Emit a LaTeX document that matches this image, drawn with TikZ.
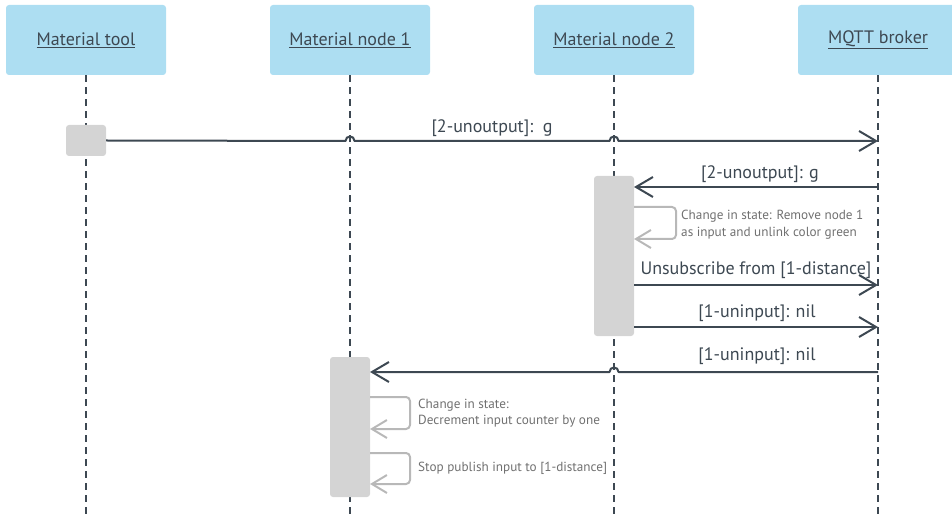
\documentclass[tikz,border=0pt]{standalone}
\usepackage{fontspec}
\setmainfont{PT Sans}
\usetikzlibrary{arrows.meta}
\definecolor{headfill}{HTML}{ADDEF2}
\definecolor{ink}{HTML}{3D4852}
\definecolor{actfill}{HTML}{D4D4D4}
\definecolor{selfc}{HTML}{B8B8B8}
\definecolor{notec}{HTML}{707070}

\begin{document}
\begin{tikzpicture}[x=1pt,y=-1pt,
  actor/.style={fill=headfill, rounded corners=3pt, minimum width=160pt,
    minimum height=70pt, inner sep=0pt, text=ink,
    font=\fontsize{18}{21}\selectfont},
  life/.style={ink, line width=1.5pt, dash pattern=on 7pt off 5pt},
  act/.style={fill=actfill, rounded corners=3pt, minimum width=40pt, inner sep=0pt},
  msg/.style={ink, line width=2pt, line join=round,
    -{Straight Barb[length=17pt,width=20pt,line width=2pt]}},
  selfmsg/.style={selfc, line width=2pt, rounded corners=4pt,
    -{Straight Barb[length=15pt,width=18pt,line width=2pt]}},
  lbl/.style={text=ink, inner sep=0pt, font=\fontsize{18}{21}\selectfont},
  note/.style={text=notec, inner sep=0pt, anchor=west, align=left,
    font=\fontsize{13.2}{16.5}\selectfont},
]
\useasboundingbox (0,0) rectangle (952,518);

% participants
\node[actor] (tool)  at (86,40)  {\underline{Material tool}};
\node[actor] (node1) at (350,40) {\underline{Material node 1}};
\node[actor] (node2) at (614,40) {\underline{Material node 2}};
\node[actor] (mqtt)  at (878,40) {\underline{MQTT broker}};

% lifelines
\coordinate (tool-end)  at (86,518);
\coordinate (node1-end) at (350,518);
\coordinate (node2-end) at (614,518);
\coordinate (mqtt-end)  at (878,518);
\draw[life] (tool.south)  -- (tool-end);
\draw[life] (node1.south) -- (node1-end);
\draw[life] (node2.south) -- (node2-end);
\draw[life] (mqtt.south)  -- (mqtt-end);

% activation bars
\node[act, minimum height=31pt]  (act0) at (86,140.5) {};
\node[act, minimum height=160pt] (act2) at (614,256) {};
\node[act, minimum height=140pt] (act1) at (350,427) {};

% message end points
\coordinate (b1) at (878,141);
\coordinate (b2) at (878,187);
\coordinate (n2a) at (634,187);
\coordinate (n2b) at (634,285);
\coordinate (b4) at (878,285);
\coordinate (n2c) at (634,327);
\coordinate (b5) at (878,327);
\coordinate (b6) at (878,372);
\coordinate (n1a) at (370,372);

% 1: tool -> broker, hopping over two lifelines
\draw[msg] (act0.east) -- (345.5,141) .. controls (345.5,135) and (354.5,135) .. (354.5,141)
  -- (609.5,141) .. controls (609.5,135) and (618.5,135) .. (618.5,141) -- (b1);
\node[lbl] (l1) at (492,128) {[2-unoutput]:\ \ g};

% 2: broker -> node 2
\draw[msg] (b2) -- (n2a);
\node[lbl] (l2) at (760,174) {[2-unoutput]: g};

% self message on node 2
\coordinate (s2a) at (634,207);
\coordinate (s2b) at (634,239);
\draw[selfmsg] (s2a) -- (676,207) -- (676,239) -- (s2b);
\node[note] (t2) at (681,224.5) {Change in state: Remove node 1\\as input and unlink color green};

% 4, 5: node 2 -> broker
\draw[msg] (n2b) -- (b4);
\node[lbl] (l4) at (756,270) {Unsubscribe from [1-distance]};
\draw[msg] (n2c) -- (b5);
\node[lbl] (l5) at (757,313) {[1-uninput]: nil};

% 6: broker -> node 1, hopping over node 2 lifeline
\draw[msg] (b6) -- (618.5,372) .. controls (618.5,366) and (609.5,366) .. (609.5,372) -- (n1a);
\node[lbl] (l6) at (757,356) {[1-uninput]: nil};

% self messages on node 1
\coordinate (s1a) at (370,397);
\coordinate (s1b) at (370,429);
\draw[selfmsg] (s1a) -- (410,397) -- (410,429) -- (s1b);
\node[note] (t1) at (418,413) {Change in state:\\Decrement input counter by one};

\coordinate (s1c) at (370,453);
\coordinate (s1d) at (370,484);
\draw[selfmsg] (s1c) -- (410,453) -- (410,484) -- (s1d);
\node[note] (t3) at (418,468) {Stop publish input to [1-distance]};
\end{tikzpicture}
\end{document}
